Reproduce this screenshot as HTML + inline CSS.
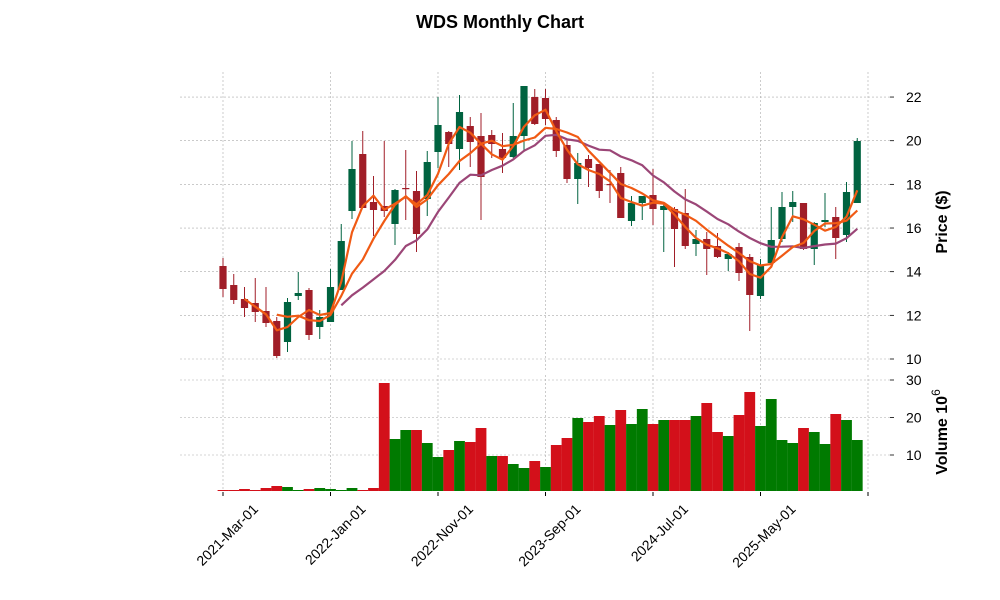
<!DOCTYPE html>
<html><head><meta charset="utf-8"><style>
html,body{margin:0;padding:0;background:#fff;}
svg{display:block;font-family:"Liberation Sans","DejaVu Sans",sans-serif;}
</style></head><body>
<svg id="s" width="1000" height="600" viewBox="0 0 1000 600" xmlns="http://www.w3.org/2000/svg">
<text x="500" y="28" text-anchor="middle" font-size="18" font-weight="bold">WDS Monthly Chart</text>
<g id="g"></g>
</svg>
<script>
const D=[[266,289,258,297],[285,300,274,304],[299,308,287,317],[303,312,278,322],[311,323,287,327],[321,356,317,358],[342,302,298,352],[296,293,272,300],[290,335,288,340],[327,317,310,339],
[322,287,269,322],[290,241,224,290],[211,169,141,219],[154,208,131,208],[202,210,176,236],[206,211,141,217],[224,190,189,245],[188,189,150,220],[191,234,171,252],[199,162,151,216],
[152,125,97,168],[132,144,131,167],[149,112,95,170],[126,142,117,167],[136,177,113,220],[135,144,130,158],[149,158,133,173],[157,136,103,158],[136,86,86,152],[97,124,89,125],
[98,119,89,125],[120,151,117,157],[145,179,140,183],[179,163,153,204],[159,168,155,187],[164,191,164,198],[184,185,170,203],[173,218,167,218],[221,203,196,226],[203,196,196,220],
[195,209,169,225],[210,206,202,252],[209,229,207,267],[213,246,189,249],[244,239,230,256],[239,249,232,275],[246,257,233,258],[259,254,252,271],[247,273,243,281],[257,295,254,331],
[296,265,259,299],[263,240,207,263],[239,207,192,242],[207,202,191,222],[203,249,203,250],[249,223,222,265],[222,220,193,227],[217,238,207,259],[235,192,182,242],[203,141,138,203]];
const V=[490,490,489,490,488,486,487,490,489,488,489,490,488,490,488,383,439,430,430,443,457,450,441,442,428,456,456,464,468,461,
467,445,438,418,422,416,425,410,424,409,424,420,420,420,416,403,432,436,415,392,426,399,440,443,428,432,444,414,420,440];
const X=i=>223+i*10.75;
let h='';
for(const p of [10,12,14,16,18,20,22]){const y=359-(p-10)*21.83;
h+=`<line x1="180" x2="890" y1="${y}" y2="${y}" stroke="#aaa" stroke-width="0.6" stroke-dasharray="2,2"/>`;
h+=`<line x1="890" x2="894" y1="${y}" y2="${y}" stroke="#000" stroke-width="0.8"/>`;
h+=`<text x="906" y="${y+5}" font-size="14">${p}</text>`;}
for(const v of [10,20,30]){const y=492.5-v*3.75;
h+=`<line x1="180" x2="890" y1="${y}" y2="${y}" stroke="#aaa" stroke-width="0.6" stroke-dasharray="2,2"/>`;
h+=`<line x1="890" x2="894" y1="${y}" y2="${y}" stroke="#000" stroke-width="0.8"/>`;
h+=`<text x="906" y="${y+5}" font-size="14">${v}</text>`;}
const lab=['2021-Mar-01','2022-Jan-01','2022-Nov-01','2023-Sep-01','2024-Jul-01','2025-May-01',''];
for(let k=0;k<7;k++){const x=X(k*10);
h+=`<line x1="${x}" x2="${x}" y1="72" y2="370" stroke="#aaa" stroke-width="0.6" stroke-dasharray="2,2"/>`;
h+=`<line x1="${x}" x2="${x}" y1="375" y2="491" stroke="#aaa" stroke-width="0.6" stroke-dasharray="2,2"/>`;
h+=`<line x1="${x}" x2="${x}" y1="492" y2="496" stroke="#000" stroke-width="1"/>`;
const tx=x+36,ty=510;
if(lab[k])h+=`<text x="${tx}" y="${ty}" font-size="14" text-anchor="end" transform="rotate(-45 ${tx} ${ty})">${lab[k]}</text>`;}
for(let i=0;i<60;i++){const up=i==0?false:D[i][1]<=D[i-1][1];
h+=`<rect x="${X(i)-5.4}" y="${V[i]}" width="10.8" height="${491-V[i]}" fill="${up?'#007a00':'#d3101a'}"/>`;}
for(let i=0;i<60;i++){const [o,c,hi,lo]=D[i];const up=c<=o;const col=up?'#006340':'#a01e28';const x=X(i);
h+=`<line x1="${x}" x2="${x}" y1="${hi}" y2="${lo}" stroke="${col}" stroke-width="1"/>`;
h+=`<rect x="${x-3.6}" y="${Math.min(o,c)}" width="7.2" height="${Math.max(1.2,Math.abs(o-c))}" fill="${col}"/>`;}
function ma(n,col){let pts=[];for(let i=n-1;i<60;i++){let s=0;for(let j=i-n+1;j<=i;j++)s+=D[j][1];pts.push(X(i).toFixed(1)+','+(s/n).toFixed(1));}
h+=`<polyline points="${pts.join(' ')}" fill="none" stroke="${col}" stroke-width="2.2" stroke-linejoin="round"/>`;}
ma(12,'#9b4677');ma(6,'#f05a14');ma(3,'#f05a14');
h+=`<text transform="translate(947 222) rotate(-90)" font-size="16" font-weight="bold" text-anchor="middle">Price ($)</text>`;
h+=`<text transform="translate(947 432) rotate(-90)" font-size="16" font-weight="bold" text-anchor="middle">Volume  10<tspan dy="-7" font-size="12" font-weight="normal">6</tspan></text>`;
document.getElementById('g').innerHTML=h;
</script>
</body></html>
